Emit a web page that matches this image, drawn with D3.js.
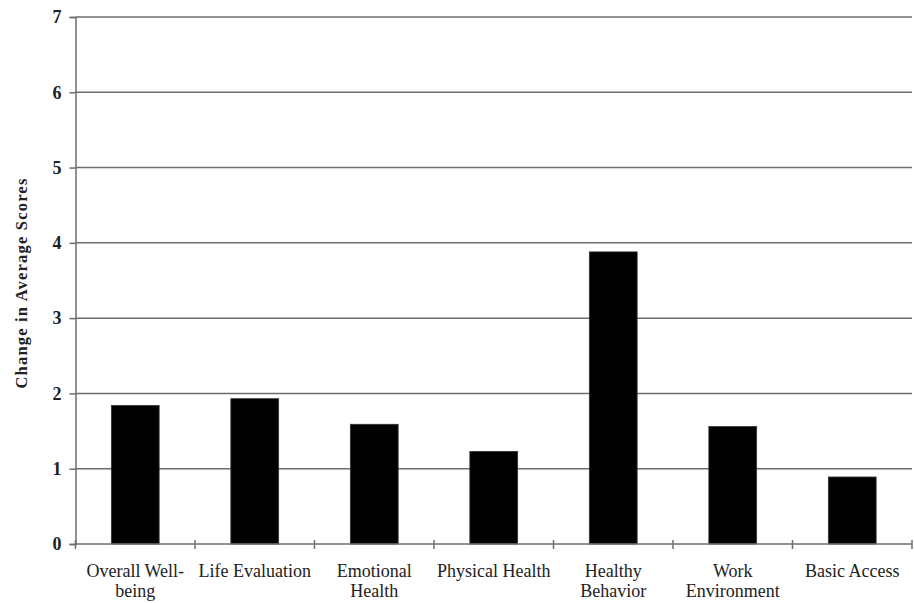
<!DOCTYPE html>
<html>
<head>
<meta charset="utf-8">
<script src="https://cdn.jsdelivr.net/npm/d3@7"></script>
<style>
  html, body { margin: 0; padding: 0; background: #fff; }
  svg { display: block; }
  .serif { font-family: "Liberation Serif", Tinos, "Times New Roman", Times, "DejaVu Serif", serif; }
</style>
</head>
<body>
<svg id="chart" width="914" height="603"></svg>
<script>
const categories = ["Overall Well-being", "Life Evaluation", "Emotional Health", "Physical Health", "Healthy Behavior", "Work Environment", "Basic Access"];
const categoryLines = [["Overall Well-", "being"], ["Life Evaluation"], ["Emotional", "Health"], ["Physical Health"], ["Healthy", "Behavior"], ["Work", "Environment"], ["Basic Access"]];
const values = [1.84, 1.93, 1.59, 1.23, 3.88, 1.56, 0.89];
const yTicks = [0, 1, 2, 3, 4, 5, 6, 7];
const yTitle = "Change in Average Scores";

const svg = d3.select("#chart");
const plotLeft = 75.5, plotRight = 912, plotTop = 17, plotBottom = 544;
const gridColor = "#6e6e6e";

const y = d3.scaleLinear().domain([0, 7]).range([plotBottom, plotTop]);
const x = d3.scaleBand().domain(categories).range([plotLeft, plotRight]).paddingInner(0.6).paddingOuter(0.3);

// gridlines
svg.append("g").selectAll("line").data(yTicks.filter(d => d > 0)).join("line")
  .attr("x1", plotLeft).attr("x2", plotRight)
  .attr("y1", d => y(d)).attr("y2", d => y(d))
  .attr("stroke", gridColor).attr("stroke-width", 1.5);

// bars
svg.append("g").selectAll("rect").data(values).join("rect")
  .attr("x", (d, i) => x(categories[i]))
  .attr("width", x.bandwidth())
  .attr("y", d => y(d))
  .attr("height", d => y(0) - y(d))
  .attr("fill", "#000")
  .attr("stroke", "#333").attr("stroke-width", 0.8);

// y axis
const yAxis = d3.axisLeft(y).tickValues(yTicks).tickSize(6).tickPadding(8).tickFormat(d3.format("d"));
const gy = svg.append("g").attr("transform", `translate(${plotLeft},0)`).call(yAxis);
gy.attr("font-family", null);
gy.select(".domain").attr("stroke", gridColor).attr("stroke-width", 1.5);
gy.selectAll(".tick line").attr("stroke", gridColor).attr("stroke-width", 1.5);
gy.selectAll(".tick text")
  .attr("class", "serif")
  .attr("font-size", 18).attr("font-weight", "bold").attr("fill", "#222");

// x axis line
svg.append("line").attr("x1", plotLeft).attr("x2", plotRight).attr("y1", y(0)).attr("y2", y(0))
  .attr("stroke", gridColor).attr("stroke-width", 1.5);

// category boundary ticks
const step = x.step();
const bounds = d3.range(categories.length + 1).map(i => x(categories[0]) - x.paddingInner() * step / 2 + i * step);
svg.append("g").selectAll("line").data(bounds).join("line")
  .attr("x1", d => d).attr("x2", d => d)
  .attr("y1", y(0) - 4).attr("y2", y(0) + 5)
  .attr("stroke", gridColor).attr("stroke-width", 1.5);

// x labels
const lab = svg.append("g").attr("class", "serif")
  .attr("font-size", 18).attr("fill", "#222").attr("text-anchor", "middle");
categories.forEach((c, i) => {
  const cx = x(c) + x.bandwidth() / 2;
  const t = lab.append("text").attr("x", cx).attr("y", 577);
  categoryLines[i].forEach((ln, j) => {
    t.append("tspan").attr("x", cx).attr("dy", j === 0 ? 0 : 20).text(ln);
  });
});

// y title
svg.append("text").attr("class", "serif")
  .attr("transform", "translate(27,283) rotate(-90)")
  .attr("text-anchor", "middle")
  .attr("font-size", 16.5).attr("font-weight", "bold")
  .attr("letter-spacing", 1.2)
  .attr("fill", "#222")
  .text(yTitle);
</script>
</body>
</html>
